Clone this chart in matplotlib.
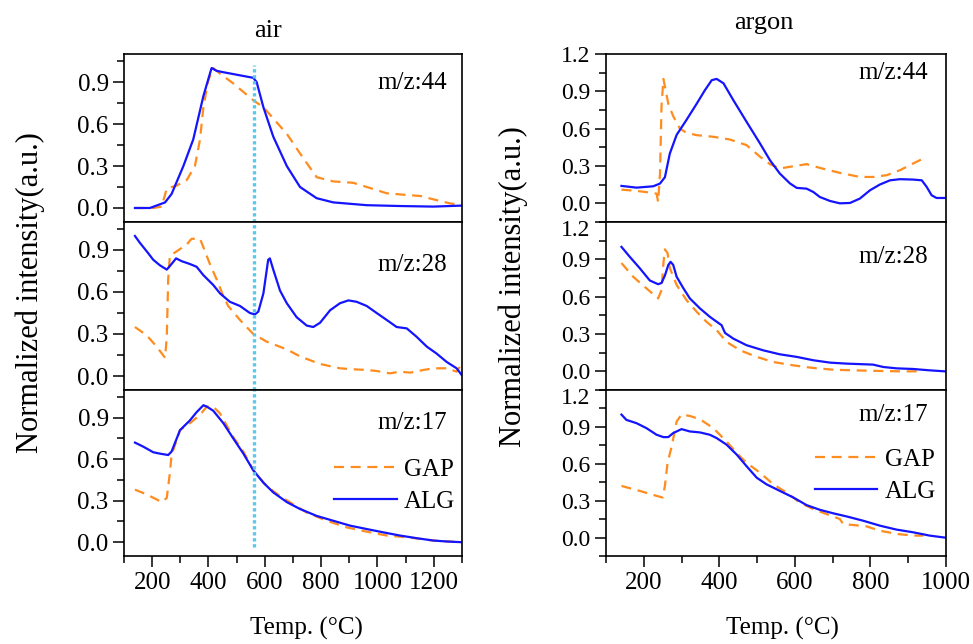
import matplotlib
matplotlib.use("Agg")
import matplotlib.pyplot as plt
import matplotlib.transforms as mtransforms
from matplotlib.ticker import MultipleLocator, FormatStrFormatter

plt.rcParams["font.family"] = ["Liberation Serif", "DejaVu Serif"]

# ---- air, m/z:44 ----
air44_alg_T = [139, 192, 246, 269, 311, 346, 382, 411, 429, 453, 559, 571, 595, 630,
               678, 725, 784, 843, 962, 1080, 1198, 1299]
air44_alg = [0.0, 0.0, 0.04, 0.10, 0.30, 0.49, 0.80, 1.0, 0.98, 0.97, 0.93, 0.90, 0.72,
             0.51, 0.30, 0.15, 0.07, 0.04, 0.02, 0.014, 0.01, 0.017]
air44_gap_T = [139, 204, 234, 252, 287, 323, 352, 370, 382, 399, 417, 441, 488, 559,
               595, 630, 678, 725, 784, 843, 914, 962, 1033, 1104, 1151, 1198, 1257, 1299]
air44_gap = [0.0, 0.0, 0.01, 0.14, 0.16, 0.20, 0.30, 0.49, 0.72, 0.91, 1.0, 0.96, 0.89,
             0.77, 0.72, 0.64, 0.53, 0.39, 0.22, 0.19, 0.18, 0.15, 0.105, 0.093, 0.086,
             0.062, 0.033, 0.021]

# ---- air, m/z:28 ----
air28_alg_T = [139, 157, 181, 204, 228, 252, 269, 285, 305, 334, 358, 382, 417, 441,
               476, 512, 547, 565, 577, 595, 612, 618, 630, 654, 678, 713, 749, 772,
               796, 832, 867, 897, 926, 962, 997, 1033, 1068, 1104, 1139, 1175, 1210,
               1246, 1281, 1299]
air28_alg = [1.0, 0.95, 0.89, 0.83, 0.79, 0.76, 0.80, 0.84, 0.82, 0.80, 0.78, 0.72,
             0.65, 0.59, 0.53, 0.50, 0.45, 0.44, 0.46, 0.59, 0.83, 0.84, 0.76, 0.61,
             0.52, 0.42, 0.36, 0.35, 0.38, 0.47, 0.52, 0.54, 0.53, 0.50, 0.45, 0.40,
             0.35, 0.34, 0.28, 0.21, 0.16, 0.10, 0.055, 0.007]
air28_gap_T = [139, 181, 216, 246, 252, 257, 263, 287, 323, 340, 370, 382, 405, 429,
               453, 470, 512, 559, 607, 678, 725, 796, 867, 914, 962, 997, 1044, 1080,
               1116, 1163, 1198, 1246, 1281, 1299]
air28_gap = [0.35, 0.29, 0.21, 0.13, 0.28, 0.69, 0.86, 0.89, 0.94, 0.98, 0.98, 0.92,
             0.80, 0.69, 0.57, 0.50, 0.40, 0.30, 0.245, 0.19, 0.14, 0.086, 0.055, 0.048,
             0.043, 0.036, 0.019, 0.031, 0.024, 0.043, 0.055, 0.055, 0.031, 0.086]

# ---- air, m/z:17 ----
air17_alg_T = [139, 169, 204, 228, 257, 269, 299, 334, 358, 382, 394, 417, 453, 488,
               524, 559, 595, 630, 678, 725, 784, 843, 902, 962, 1021, 1080, 1139, 1198,
               1246, 1299]
air17_alg = [0.72, 0.69, 0.65, 0.64, 0.63, 0.655, 0.81, 0.88, 0.94, 0.99, 0.98, 0.95,
             0.86, 0.75, 0.64, 0.52, 0.43, 0.36, 0.29, 0.24, 0.19, 0.155, 0.12, 0.095,
             0.071, 0.048, 0.029, 0.012, 0.005, 0.0]
air17_gap_T = [139, 181, 234, 252, 263, 269, 299, 334, 370, 394, 417, 441, 488, 524,
               559, 607, 654, 701, 749, 820, 891, 962, 1033, 1104, 1198, 1299]
air17_gap = [0.38, 0.345, 0.29, 0.32, 0.50, 0.63, 0.81, 0.86, 0.92, 0.98, 0.98, 0.93,
             0.76, 0.655, 0.52, 0.405, 0.333, 0.274, 0.214, 0.155, 0.107, 0.076, 0.048,
             0.036, 0.012, 0.0]

# ---- argon, m/z:44 ----
ar44_alg_T = [141, 181, 225, 243, 256, 269, 287, 313, 340, 362, 380, 393, 411, 437,
              472, 508, 534, 560, 587, 605, 631, 649, 666, 693, 719, 746, 772, 799, 825,
              852, 878, 913, 936, 949, 962, 975, 997]
ar44_alg = [0.14, 0.126, 0.137, 0.159, 0.21, 0.40, 0.55, 0.67, 0.80, 0.91, 0.99, 1.0,
            0.965, 0.83, 0.656, 0.48, 0.347, 0.24, 0.16, 0.124, 0.118, 0.091, 0.051,
            0.019, 0.0, 0.003, 0.038, 0.105, 0.151, 0.185, 0.194, 0.191, 0.185, 0.132,
            0.065, 0.043, 0.043]
ar44_gap_T = [141, 181, 207, 234, 238, 243, 247, 252, 256, 265, 278, 296, 313, 340,
              384, 428, 472, 508, 534, 560, 596, 631, 666, 719, 772, 807, 843, 878, 913,
              940]
ar44_gap = [0.11, 0.10, 0.09, 0.078, 0.011, 0.24, 0.78, 1.0, 0.94, 0.80, 0.70, 0.60,
            0.567, 0.548, 0.535, 0.513, 0.468, 0.374, 0.315, 0.28, 0.298, 0.315, 0.285,
            0.245, 0.212, 0.212, 0.226, 0.266, 0.32, 0.36]

# ---- argon, m/z:28 ----
ar28_alg_T = [141, 163, 189, 216, 238, 247, 256, 265, 271, 278, 287, 305, 322, 349,
              375, 397, 406, 415, 437, 472, 516, 560, 605, 649, 693, 737, 807, 834, 869,
              913, 957, 997]
ar28_alg = [1.0, 0.92, 0.83, 0.73, 0.70, 0.71, 0.77, 0.855, 0.88, 0.855, 0.76, 0.667,
            0.586, 0.505, 0.438, 0.39, 0.371, 0.309, 0.263, 0.21, 0.169, 0.137, 0.116,
            0.089, 0.07, 0.062, 0.054, 0.035, 0.024, 0.019, 0.008, 0.0]
ar28_gap_T = [141, 172, 207, 238, 247, 252, 256, 263, 269, 287, 313, 340, 366, 393,
              419, 455, 499, 543, 596, 649, 702, 755, 825, 878, 931]
ar28_gap = [0.87, 0.76, 0.667, 0.586, 0.653, 0.868, 0.98, 0.95, 0.83, 0.694, 0.573,
            0.479, 0.398, 0.331, 0.237, 0.169, 0.116, 0.075, 0.048, 0.027, 0.013, 0.008,
            0.003, 0.0, 0.0]

# ---- argon, m/z:17 ----
ar17_alg_T = [141, 154, 181, 207, 234, 252, 265, 278, 300, 322, 349, 375, 393, 419,
              446, 472, 499, 525, 560, 596, 631, 666, 702, 737, 781, 825, 869, 913, 957,
              997]
ar17_alg = [1.0, 0.957, 0.93, 0.89, 0.836, 0.817, 0.817, 0.85, 0.882, 0.863, 0.855,
            0.836, 0.809, 0.756, 0.675, 0.581, 0.487, 0.433, 0.38, 0.326, 0.264, 0.226,
            0.197, 0.172, 0.137, 0.097, 0.065, 0.043, 0.016, 0.0]
ar17_gap_T = [141, 189, 234, 250, 256, 263, 274, 287, 300, 322, 349, 384, 419, 446,
              472, 508, 543, 578, 613, 649, 684, 719, 728, 755, 790, 825, 869, 913, 940]
ar17_gap = [0.42, 0.38, 0.339, 0.326, 0.42, 0.608, 0.742, 0.944, 1.0, 0.989, 0.962,
            0.89, 0.782, 0.688, 0.608, 0.527, 0.433, 0.366, 0.285, 0.231, 0.191, 0.151,
            0.11, 0.102, 0.091, 0.056, 0.03, 0.016, 0.016]

mz_labels = ["m/z:44", "m/z:28", "m/z:17"]
marker_T = 560  # dotted marker line in the air panels

BLUE = "#1414ff"
ORANGE = "#ff8c1e"
CYAN = "#5cc8ea"
FS = 18

fig = plt.figure(figsize=(9.73, 6.44), dpi=100)

# panel rectangles (left, bottom, width, height) in figure fractions
rows = [(0.6553, 0.2608), (0.3944, 0.2609), (0.1366, 0.2578)]
cols = [(0.1274, 0.3474), (0.6228, 0.3494)]

air_data = [
    (air44_gap_T, air44_gap, air44_alg_T, air44_alg),
    (air28_gap_T, air28_gap, air28_alg_T, air28_alg),
    (air17_gap_T, air17_gap, air17_alg_T, air17_alg),
]
ar_data = [
    (ar44_gap_T, ar44_gap, ar44_alg_T, ar44_alg),
    (ar28_gap_T, ar28_gap, ar28_alg_T, ar28_alg),
    (ar17_gap_T, ar17_gap, ar17_alg_T, ar17_alg),
]

label_pos = {
    0: [(0.956, 0.83), (0.956, 0.745), (0.956, 0.80)],
    1: [(0.947, 0.885), (0.947, 0.79), (0.947, 0.85)],
}
legend_anchor = [(1.025, 0.68), (1.015, 0.74)]

stacked = []  # right-hand panels whose "1.2" label sits on the panel above's "0.0"
for c, (data, xlim, ylim, ytick_fs) in enumerate([
        (air_data, (100, 1300), (-0.1, 1.1), FS),
        (ar_data, (100, 1000), (-0.15, 1.2), 17)]):
    left, width = cols[c]
    for r, (gT, g, aT, a) in enumerate(data):
        bottom, height = rows[r]
        ax = fig.add_axes([left, bottom, width, height])
        ax.plot(gT, g, color=ORANGE, lw=1.6, dashes=(4.5, 3), label="GAP")
        ax.plot(aT, a, color=BLUE, lw=1.6, label="ALG")
        ax.set_xlim(*xlim)
        ax.set_ylim(*ylim)
        ax.xaxis.set_major_locator(MultipleLocator(200))
        ax.xaxis.set_minor_locator(MultipleLocator(100))
        ax.yaxis.set_major_locator(MultipleLocator(0.3))
        ax.yaxis.set_minor_locator(MultipleLocator(0.15))
        ax.yaxis.set_major_formatter(FormatStrFormatter("%.1f"))
        ax.tick_params(which="both", direction="out", top=False, right=False)
        ax.tick_params(axis="x", labelsize=FS)
        ax.tick_params(axis="y", labelsize=ytick_fs, pad=3)
        ax.tick_params(which="major", length=8, width=1.1)
        ax.tick_params(which="minor", length=5, width=1.1)
        for s in ax.spines.values():
            s.set_linewidth(1.2)
        if r < 2:
            ax.tick_params(axis="x", which="both", bottom=False, labelbottom=False)
        lx, ly = label_pos[c][r]
        ax.text(lx, ly, mz_labels[r], transform=ax.transAxes, ha="right", va="center",
                fontsize=FS)
        if c == 0:
            ymin, ymax = [(0.0, 0.935), (0.0, 1.0), (0.053, 1.0)][r]
            ax.axvline(marker_T, ymin=ymin, ymax=ymax, color=CYAN, lw=2.4,
                       ls=(0, (1, 0.8)))
        if r == 2:
            ax.legend(loc="upper right", bbox_to_anchor=legend_anchor[c], frameon=False,
                      fontsize=FS, handlelength=2.5, handletextpad=0.3,
                      labelspacing=0.4, borderaxespad=0.2)
        if c == 1 and r > 0:
            stacked.append(ax)

# nudge the crowded "1.2" labels a few pixels down so they clear the "0.0" above
fig.canvas.draw()
shift = mtransforms.ScaledTranslation(0, -4 / 72, fig.dpi_scale_trans)
for ax in stacked:
    for tick in ax.yaxis.get_major_ticks():
        if abs(tick.get_loc() - 1.2) < 1e-6:
            tick.label1.set_transform(tick.label1.get_transform() + shift)

fig.text(0.275, 0.9425, "air", ha="center", va="baseline", fontsize=19)
fig.text(0.785, 0.955, "argon", ha="center", va="baseline", fontsize=19)
fig.text(0.315, 0.014, "Temp. (\u00b0C)", ha="center", va="baseline", fontsize=18)
fig.text(0.804, 0.014, "Temp. (\u00b0C)", ha="center", va="baseline", fontsize=18)
fig.text(0.031, 0.545, "Normalized intensity(a.u.)", rotation=90, ha="center",
         va="center", fontsize=22)
fig.text(0.527, 0.555, "Normalized intensity(a.u.)", rotation=90, ha="center",
         va="center", fontsize=22)

fig.savefig("out.png", dpi=100)
